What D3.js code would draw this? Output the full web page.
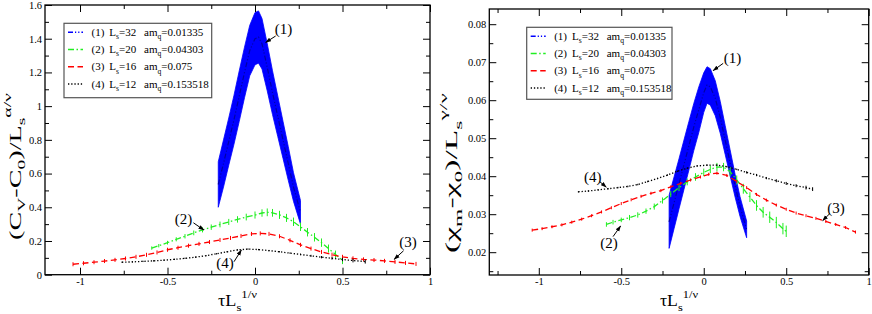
<!DOCTYPE html>
<html><head><meta charset="utf-8">
<script src="https://cdn.jsdelivr.net/npm/d3@7"></script>
<style>body{margin:0;background:#fff}</style>
</head><body><svg id="c" width="872" height="314"></svg>
<script>
// ---------------- DATA ----------------
const SERIES_NAMES = ["(1)", "(2)", "(3)", "(4)"];
const LEG_LS = ["=32", "=20", "=16", "=12"];
const LEG_AMQ = ["=0.01335", "=0.04303", "=0.075", "=0.153518"];

const X_MAJOR = [-1, -0.5, 0, 0.5, 1];
const L_X_MINOR = [-0.75, -0.25, 0.25, 0.75];
const R_X_MINOR = [-1.25, -0.75, -0.25, 0.25, 0.75];
const L_Y_MAJOR = [0, 0.2, 0.4, 0.6, 0.8, 1, 1.2, 1.4, 1.6];
const L_Y_MINOR = [0.1, 0.3, 0.5, 0.7, 0.9, 1.1, 1.3, 1.5];
const R_Y_MAJOR = [0.02, 0.03, 0.04, 0.05, 0.06, 0.07, 0.08];
const R_Y_MINOR = [0.015, 0.025, 0.035, 0.045, 0.055, 0.065, 0.075];

// Left panel: (C_V-C_0)/L_s^{alpha/nu}
const L1_X = [-0.21,-0.18,-0.15,-0.12,-0.09,-0.06,-0.03,0,0.02,0.04,0.07,0.1,0.13,0.16,0.19,0.22,0.26];
const L1_Y = [0.535,0.66,0.79,0.92,1.06,1.2,1.33,1.40,1.41,1.37,1.23,1.08,0.94,0.80,0.66,0.52,0.37];
const L1_E = [0.135,0.14,0.14,0.145,0.15,0.15,0.15,0.155,0.155,0.15,0.14,0.13,0.12,0.11,0.1,0.085,0.07];

const L2_X = [-0.59,-0.55,-0.5,-0.45,-0.4,-0.35,-0.3,-0.25,-0.2,-0.15,-0.1,-0.05,0,0.04,0.07,0.1,0.14,0.18,0.22,0.26,0.3,0.34,0.38,0.42,0.46,0.5];
const L2_Y = [0.158,0.172,0.19,0.21,0.228,0.248,0.266,0.282,0.298,0.313,0.328,0.342,0.354,0.366,0.37,0.367,0.355,0.337,0.314,0.284,0.252,0.222,0.19,0.155,0.12,0.085];
const L2_E = [0.01,0.01,0.011,0.012,0.013,0.014,0.015,0.016,0.017,0.018,0.019,0.02,0.021,0.022,0.023,0.023,0.024,0.024,0.025,0.025,0.025,0.025,0.025,0.024,0.023,0.022];

const L3_X = [-1.04,-0.98,-0.92,-0.86,-0.8,-0.74,-0.68,-0.62,-0.56,-0.5,-0.44,-0.38,-0.32,-0.26,-0.2,-0.14,-0.08,-0.02,0.03,0.08,0.14,0.2,0.26,0.32,0.38,0.44,0.5,0.56,0.62,0.68,0.74,0.8,0.86,0.92];
const L3_Y = [0.062,0.068,0.074,0.081,0.088,0.096,0.106,0.118,0.132,0.148,0.16,0.172,0.183,0.194,0.206,0.218,0.23,0.242,0.245,0.242,0.228,0.204,0.177,0.155,0.135,0.119,0.106,0.097,0.091,0.087,0.082,0.076,0.07,0.064];
const L3_E = [0.012,0.012,0.012,0.012,0.012,0.012,0.012,0.012,0.012,0.012,0.012,0.012,0.012,0.012,0.012,0.012,0.012,0.012,0.012,0.012,0.012,0.012,0.012,0.012,0.012,0.012,0.012,0.012,0.012,0.012,0.012,0.012,0.012,0.012];

const L4_X = [-0.76,-0.7,-0.64,-0.58,-0.52,-0.46,-0.4,-0.34,-0.28,-0.22,-0.16,-0.1,-0.04,0.02,0.08,0.14,0.2,0.26,0.32,0.38,0.44,0.5,0.56,0.63];
const L4_Y = [0.074,0.076,0.079,0.082,0.086,0.091,0.097,0.104,0.113,0.124,0.136,0.147,0.152,0.149,0.143,0.136,0.128,0.12,0.112,0.104,0.097,0.09,0.084,0.078];
const L4_E = [0.004,0.004,0.004,0.004,0.004,0.004,0.004,0.004,0.004,0.004,0.004,0.004,0.004,0.004,0.004,0.004,0.004,0.005,0.006,0.007,0.008,0.01,0.011,0.012];

// Right panel: (chi_m-chi_0)/L_s^{gamma/nu}
const R1_X = [-0.21,-0.18,-0.15,-0.12,-0.09,-0.06,-0.03,0,0.02,0.04,0.07,0.1,0.13,0.16,0.19,0.22,0.26];
const R1_Y = [0.028,0.033,0.038,0.043,0.048,0.053,0.0575,0.062,0.064,0.0635,0.0605,0.0555,0.0495,0.0435,0.0375,0.032,0.026];
const R1_E = [0.007,0.0068,0.0066,0.0065,0.0064,0.0062,0.006,0.0052,0.0048,0.0048,0.0046,0.0042,0.0038,0.0034,0.003,0.0026,0.0022];

const R2_X = [-0.59,-0.55,-0.5,-0.45,-0.4,-0.35,-0.3,-0.25,-0.2,-0.15,-0.1,-0.05,0,0.04,0.08,0.12,0.16,0.2,0.24,0.28,0.32,0.36,0.4,0.44,0.48,0.5];
const R2_Y = [0.0273,0.0279,0.0285,0.0291,0.0298,0.0308,0.032,0.0336,0.0353,0.037,0.0385,0.0398,0.041,0.0418,0.0424,0.0424,0.0412,0.039,0.0367,0.0345,0.0323,0.0305,0.0292,0.0278,0.0262,0.0255];
const R2_E = [0.0006,0.0006,0.0006,0.0007,0.0007,0.0007,0.0008,0.0008,0.0008,0.0009,0.0009,0.001,0.001,0.001,0.0011,0.0011,0.0012,0.0012,0.0013,0.0013,0.0014,0.0014,0.0015,0.0015,0.0015,0.0015];

const R3_X = [-1.04,-0.98,-0.92,-0.86,-0.8,-0.74,-0.68,-0.62,-0.56,-0.5,-0.44,-0.38,-0.32,-0.26,-0.2,-0.14,-0.08,-0.02,0.03,0.08,0.14,0.2,0.26,0.32,0.38,0.44,0.5,0.56,0.62,0.68,0.74,0.8,0.86,0.92];
const R3_Y = [0.0258,0.0262,0.0267,0.0272,0.0279,0.0287,0.0296,0.0306,0.0317,0.0328,0.0338,0.0347,0.0355,0.0362,0.0372,0.0381,0.039,0.0398,0.0405,0.0408,0.0402,0.0386,0.037,0.0352,0.0337,0.0324,0.0313,0.0303,0.0296,0.0289,0.0281,0.0273,0.0265,0.0253];
const R3_E = [0.0004,0.0004,0.0004,0.0004,0.0004,0.0004,0.0004,0.0004,0.0004,0.0004,0.0004,0.0004,0.0004,0.0004,0.0004,0.0004,0.0004,0.0004,0.0004,0.0004,0.0004,0.0004,0.0004,0.0004,0.0004,0.0004,0.0004,0.0004,0.0004,0.0004,0.0004,0.0004,0.0004,0.0004];

const R4_X = [-0.76,-0.7,-0.64,-0.58,-0.52,-0.46,-0.4,-0.34,-0.28,-0.22,-0.16,-0.1,-0.04,0.02,0.08,0.14,0.2,0.26,0.32,0.38,0.44,0.5,0.56,0.62,0.66];
const R4_Y = [0.0359,0.0361,0.0364,0.0367,0.037,0.0373,0.0378,0.0386,0.0394,0.0403,0.0413,0.0421,0.0427,0.0429,0.0429,0.0425,0.0418,0.041,0.0403,0.0395,0.0388,0.0381,0.0375,0.037,0.0366];
const R4_E = [0.0002,0.0002,0.0002,0.0002,0.0002,0.0002,0.0002,0.0002,0.0002,0.0002,0.0002,0.0002,0.0002,0.0002,0.0002,0.0002,0.0002,0.0003,0.0003,0.0003,0.0004,0.0004,0.0004,0.0005,0.0005];

// ---------------- STYLE ----------------
const FONT = '"Liberation Serif","Times New Roman",serif';
const STY = [
  {color: "#0000ff", dash: "5,2,1.2,2,1.2,2"},
  {color: "#22ee22", dash: "6,2.5,1.5,2.5"},
  {color: "#ff0000", dash: "6,3.5"},
  {color: "#000000", dash: "1.3,1.9"}
];

const svg = d3.select('#c');
svg.append('rect').attr('width', 872).attr('height', 314).attr('fill', '#fff');
const defs = svg.append('defs');
defs.append('marker').attr('id', 'ah').attr('viewBox', '0 0 10 10')
  .attr('refX', 9).attr('refY', 5).attr('markerWidth', 6).attr('markerHeight', 6)
  .attr('orient', 'auto').append('path').attr('d', 'M0,1.5L10,5L0,8.5z').attr('fill', '#000');

function rich(t, segs, base, supK) {
  let shift = 0;
  const sk = supK || 0.62;
  segs.forEach(([txt, k]) => {
    const target = k === 'sub' ? base * 0.3 : (k === 'sup' ? -base * sk : 0);
    const ts = t.append('tspan').text(txt).attr('dy', target - shift);
    if (k) ts.attr('font-size', base * 0.7);
    shift = target;
  });
}

function title(parent, segs, size, cx, cy, rot, len, supK) {
  const g = parent.append('g');
  const t = g.append('text').attr('text-anchor', 'middle').attr('font-size', size)
    .attr('font-family', FONT).attr('fill', '#000');
  rich(t, segs, size, supK);
  const w = t.node().getBBox().width;
  g.attr('transform', `translate(${cx},${cy}) rotate(${rot}) scale(${len / w},1)`);
}

const fmt = d => String(+d.toFixed(3));

const panels = [
  {
    id: 'L', x0: 45, x1: 430, y0: 5, y1: 274.7, xd: [-1.2, 1], yd: [0, 1.6],
    xMin: L_X_MINOR, yMaj: L_Y_MAJOR, yMin: L_Y_MINOR,
    series: [[L1_X, L1_Y, L1_E], [L2_X, L2_Y, L2_E], [L3_X, L3_Y, L3_E], [L4_X, L4_Y, L4_E]],
    ann: [
      [0.113, 1.428, 0.118, 1.416, 0.061, 1.378],
      [-0.458, 0.301, -0.352, 0.308, -0.292, 0.265],
      [0.824, 0.164, 0.849, 0.142, 0.795, 0.091],
      [-0.221, 0.040, -0.12, 0.077, -0.078, 0.146]
    ],
    leg: {x: 64, y: 23.3, w: 147.7, h: 74.4},
    ytitle: [["(C"], ["V", "sub"], ["-C"], ["0", "sub"], [")/L"], ["s", "sub"], ["α/ν", "sup"]],
    ytx: 20.5, yty: 166.5, ylen: 147, xlen: 39
  },
  {
    id: 'R', x0: 489.3, x1: 868.7, y0: 9, y1: 275, xd: [-1.3, 1], yd: [0.014, 0.084],
    xMin: R_X_MINOR, yMaj: R_Y_MAJOR, yMin: R_Y_MINOR,
    series: [[R1_X, R1_Y, R1_E], [R2_X, R2_Y, R2_E], [R3_X, R3_Y, R3_E], [R4_X, R4_Y, R4_E]],
    ann: [
      [0.121, 0.0698, 0.118, 0.0697, 0.057, 0.0678],
      [-0.627, 0.0211, -0.55, 0.0241, -0.504, 0.0269],
      [0.749, 0.0303, 0.765, 0.0302, 0.721, 0.0283],
      [-0.726, 0.0385, -0.631, 0.0386, -0.591, 0.0371]
    ],
    leg: {x: 526.7, y: 27.3, w: 145.3, h: 72},
    ytitle: [["(χ"], ["m", "sub"], ["-χ"], ["0", "sub"], [")/L"], ["s", "sub"], ["γ/ν", "sup"]],
    ytx: 456.7, yty: 173, ylen: 160, xlen: 38
  }
];

panels.forEach(p => {
  const x = d3.scaleLinear().domain(p.xd).range([p.x0, p.x1]);
  const y = d3.scaleLinear().domain(p.yd).range([p.y1, p.y0]);
  const g = svg.append('g');
  const cid = 'clip' + p.id;
  defs.append('clipPath').attr('id', cid).append('rect')
    .attr('x', p.x0).attr('y', p.y0).attr('width', p.x1 - p.x0).attr('height', p.y1 - p.y0);
  const plot = g.append('g').attr('clip-path', `url(#${cid})`);

  p.series.forEach((s, i) => {
    const pts = s[0].map((xv, j) => ({x: xv, y: s[1][j], e: s[2][j]}));
    const line = d3.line().x(d => x(d.x)).y(d => y(d.y));
    if (i === 0) {
      plot.append('path').datum(pts)
        .attr('d', d3.area().x(d => x(d.x)).y0(d => y(d.y - d.e)).y1(d => y(d.y + d.e)))
        .attr('fill', STY[0].color).attr('stroke', STY[0].color).attr('stroke-width', 0.8);
      plot.append('path').datum(pts).attr('d', line).attr('fill', 'none')
        .attr('stroke', '#0000a8').attr('stroke-width', 1.2).attr('stroke-dasharray', STY[0].dash);
    } else {
      plot.append('g').selectAll('line').data(pts).join('line')
        .attr('x1', d => x(d.x)).attr('x2', d => x(d.x))
        .attr('y1', d => y(d.y - d.e)).attr('y2', d => y(d.y + d.e))
        .attr('stroke', STY[i].color).attr('stroke-width', 1);
      plot.append('path').datum(pts).attr('d', line).attr('fill', 'none')
        .attr('stroke', STY[i].color).attr('stroke-width', 1.3).attr('stroke-dasharray', STY[i].dash);
    }
  });

  // axes
  function ax(gen, tx, ty, vals, size, f) {
    const a = g.append('g').attr('transform', `translate(${tx},${ty})`)
      .call(gen.tickValues(vals).tickSize(size).tickPadding(3).tickFormat(f));
    a.select('.domain').remove();
    a.attr('font-family', FONT).attr('font-size', 10.5);
    a.selectAll('line').attr('stroke', '#000').attr('stroke-width', 1);
    a.selectAll('text').attr('fill', '#000');
  }
  ax(d3.axisBottom(x), 0, p.y1, X_MAJOR, -7, fmt);
  ax(d3.axisBottom(x), 0, p.y1, p.xMin, -4, () => '');
  ax(d3.axisTop(x), 0, p.y0, X_MAJOR, -7, () => '');
  ax(d3.axisTop(x), 0, p.y0, p.xMin, -4, () => '');
  ax(d3.axisLeft(y), p.x0, 0, p.yMaj, -7, fmt);
  ax(d3.axisLeft(y), p.x0, 0, p.yMin, -4, () => '');
  ax(d3.axisRight(y), p.x1, 0, p.yMaj, -7, () => '');
  ax(d3.axisRight(y), p.x1, 0, p.yMin, -4, () => '');

  g.append('rect').attr('x', p.x0).attr('y', p.y0).attr('width', p.x1 - p.x0).attr('height', p.y1 - p.y0)
    .attr('fill', 'none').attr('stroke', '#000').attr('stroke-width', 1.3);

  // annotations
  p.ann.forEach((a, i) => {
    g.append('text').attr('x', x(a[0])).attr('y', y(a[1])).text(SERIES_NAMES[i])
      .attr('font-family', FONT).attr('font-size', 15).attr('fill', '#000');
    g.append('line').attr('x1', x(a[2])).attr('y1', y(a[3])).attr('x2', x(a[4])).attr('y2', y(a[5]))
      .attr('stroke', '#000').attr('stroke-width', 1).attr('marker-end', 'url(#ah)');
  });

  // legend
  const L = p.leg;
  const lg = g.append('g');
  lg.append('rect').attr('x', L.x).attr('y', L.y).attr('width', L.w).attr('height', L.h)
    .attr('fill', '#fff').attr('stroke', '#555').attr('stroke-width', 1.2);
  SERIES_NAMES.forEach((nm, i) => {
    const cy = L.y + 9 + i * 17.2;
    lg.append('line').attr('x1', L.x + 4).attr('x2', L.x + 19).attr('y1', cy).attr('y2', cy)
      .attr('stroke', STY[i].color).attr('stroke-width', 1.5).attr('stroke-dasharray', STY[i].dash);
    const by = cy + 3.6;
    lg.append('text').attr('x', L.x + 27.5).attr('y', by).text(nm)
      .attr('font-family', FONT).attr('font-size', 11).attr('fill', '#000');
    const t1 = lg.append('text').attr('x', L.x + 45.3).attr('y', by)
      .attr('font-family', FONT).attr('font-size', 11).attr('fill', '#000');
    rich(t1, [["L"], ["s", "sub"], [LEG_LS[i]]], 11);
    const t2 = lg.append('text').attr('x', L.x + 80).attr('y', by)
      .attr('font-family', FONT).attr('font-size', 11).attr('fill', '#000');
    rich(t2, [["am"], ["q", "sub"], [LEG_AMQ[i]]], 11);
  });

  // titles
  title(g, p.ytitle, 16, p.ytx, p.yty, -90, p.ylen);
  title(g, [["τL"], ["s", "sub"], ["1/ν", "sup"]], 16, (p.x0 + p.x1) / 2, 306, 0, p.xlen, 0.52);
});
</script>
</body></html>
